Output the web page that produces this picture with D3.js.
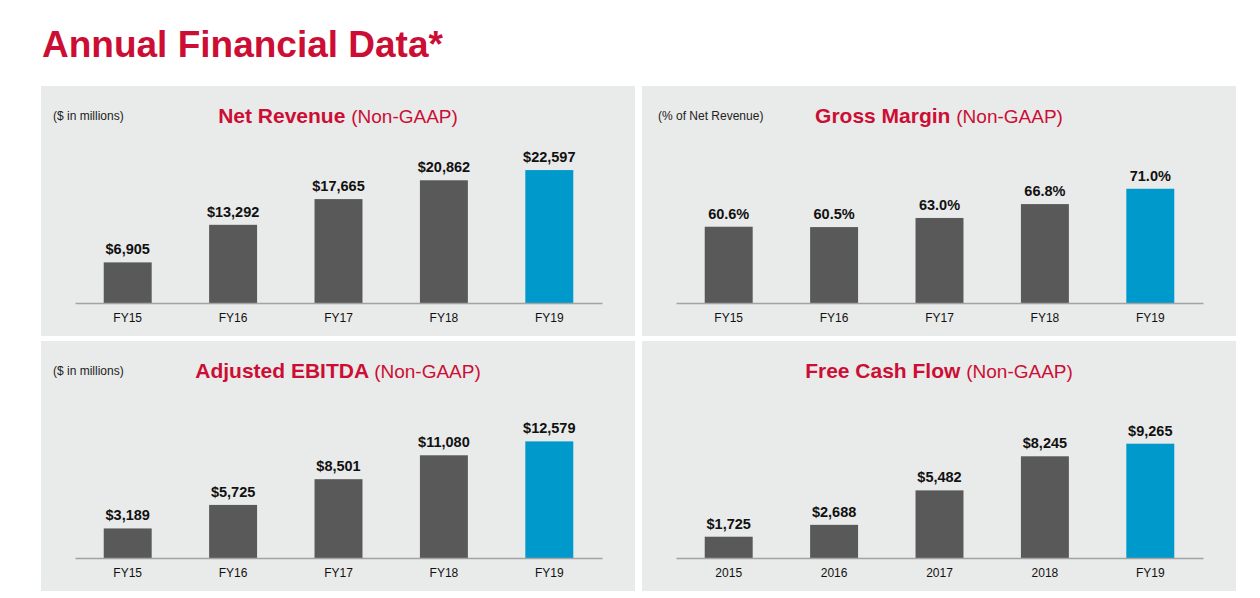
<!DOCTYPE html>
<html>
<head>
<meta charset="utf-8">
<script src="https://cdn.jsdelivr.net/npm/d3@7"></script>
<style>
  body { margin: 0; background: #fff; }
  svg { display: block; font-family: "Liberation Sans", Arial, sans-serif; }
</style>
</head>
<body>
<div id="chart"></div>
<script>
// data
var fyYears = ["FY15", "FY16", "FY17", "FY18", "FY19"];
var calYears = ["2015", "2016", "2017", "2018", "FY19"];

var netRevenue = [6905, 13292, 17665, 20862, 22597];
var grossMargin = [60.6, 60.5, 63.0, 66.8, 71.0];
var ebitda = [3189, 5725, 8501, 11080, 12579];
var freeCashFlow = [1725, 2688, 5482, 8245, 9265];

var dollarLabels = function(v) { return "$" + d3.format(",")(v); };
var pctLabels = function(v) { return d3.format(".1f")(v) + "%"; };

var panels = [
  {x: 41,  y: 86,  title: "Net Revenue", note: "($ in millions)", noteX: 12, cats: fyYears, values: netRevenue, domain: [0, 25500], fmt: dollarLabels},
  {x: 642, y: 86,  title: "Gross Margin", note: "(% of Net Revenue)", noteX: 16, cats: fyYears, values: grossMargin, domain: [39.7, 80.8], fmt: pctLabels},
  {x: 41,  y: 341, title: "Adjusted EBITDA", note: "($ in millions)", noteX: 12, cats: fyYears, values: ebitda, domain: [0, 16180], fmt: dollarLabels},
  {x: 642, y: 341, title: "Free Cash Flow", note: "", noteX: 12, cats: calYears, values: freeCashFlow, domain: [0, 12160], fmt: dollarLabels}
];

var W = 1260, H = 598;
var pw = 594, ph = 250;
var red = "#cc0e34", grey = "#595959", blue = "#0099cc";

var svg = d3.select("#chart").append("svg")
    .attr("width", W).attr("height", H);

svg.append("rect").attr("width", W).attr("height", H).attr("fill", "#fff");

svg.append("text")
    .attr("x", 42).attr("y", 57)
    .attr("fill", red)
    .attr("font-size", 37).attr("font-weight", "bold")
    .text("Annual Financial Data*");

panels.forEach(function(p) {
  var g = svg.append("g").attr("transform", "translate(" + p.x + "," + p.y + ")");

  g.append("rect").attr("width", pw).attr("height", ph).attr("fill", "#e9eaea");

  if (p.note) {
    g.append("text").attr("x", p.noteX).attr("y", 34)
      .attr("font-size", 12).attr("fill", "#222")
      .text(p.note);
  }

  var t = g.append("text").attr("x", pw / 2).attr("y", 37)
      .attr("text-anchor", "middle").attr("fill", red);
  t.append("tspan").attr("font-size", 21).attr("font-weight", "bold").text(p.title + " ");
  t.append("tspan").attr("font-size", 19).text("(Non-GAAP)");

  var x = d3.scaleBand().domain(p.cats).range([34, 561])
      .paddingInner(0.545).paddingOuter(0.2725);
  var y = d3.scaleLinear().domain(p.domain).range([217, 67]);

  var last = p.cats.length - 1;
  g.selectAll(".bar").data(p.values).enter().append("rect")
    .attr("x", function(d, i) { return x(p.cats[i]); })
    .attr("y", function(d) { return y(d); })
    .attr("width", x.bandwidth())
    .attr("height", function(d) { return 217 - y(d); })
    .attr("fill", function(d, i) { return i == last ? blue : grey; });

  g.selectAll(".val").data(p.values).enter().append("text")
    .attr("x", function(d, i) { return x(p.cats[i]) + x.bandwidth() / 2; })
    .attr("y", function(d) { return y(d) - 8; })
    .attr("text-anchor", "middle")
    .attr("font-size", 14.5).attr("font-weight", "bold").attr("fill", "#111")
    .text(p.fmt);

  var ax = g.append("g").attr("transform", "translate(0,217)")
    .call(d3.axisBottom(x).tickSize(0).tickSizeOuter(0).tickPadding(10));
  ax.select(".domain").attr("stroke", "#a3a3a3").attr("stroke-width", 1.5);
  ax.selectAll("text").attr("font-size", 12).attr("fill", "#111")
    .attr("font-family", "\"Liberation Sans\", Arial, sans-serif");
});
</script>
</body>
</html>
